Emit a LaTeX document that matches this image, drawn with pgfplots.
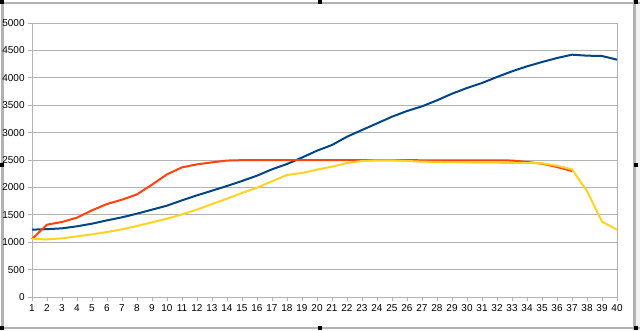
\documentclass[border=0pt]{standalone}
\usepackage{pgfplots}
\pgfplotsset{compat=1.18}
\usepackage{fontspec}
\setmainfont{Liberation Sans}
\definecolor{lblue}{HTML}{004586}
\definecolor{lred}{HTML}{FF420E}
\definecolor{lyellow}{HTML}{FFD320}
\definecolor{gridg}{HTML}{B3B3B3}
\begin{document}
\begin{tikzpicture}[x=0.75pt,y=0.75pt]
\useasboundingbox (0,0) rectangle (640,330);
\fill[white] (0,0) rectangle (640,330);
\fill[gray!10] (636,0) rectangle (640,330);
\draw[gray!60, line width=2.2] (2.5,0) -- (2.5,330);
\draw[gray!60, line width=1.5] (0,2) -- (640,2);
\draw[gray!60, line width=1.5] (0,327.5) -- (640,327.5);
\draw[gray!60, line width=2.2] (634.5,0) -- (634.5,330);
\begin{axis}[
  at={(24pt,24.75pt)}, anchor=south west,
  scale only axis, width=438.75pt, height=205.5pt,
  xmin=1, xmax=40, ymin=0, ymax=5000,
  xtick={1,...,40}, ytick={0,500,...,5000},
  ymajorgrids, major grid style={gridg, line width=0.6pt},
  axis line style={gridg, line width=0.6pt},
  xtick pos=left, ytick pos=left,
  tick style={gridg, line width=0.6pt},
  tick align=outside, major tick length=3pt,
  tick label style={font=\fontsize{7.5}{8}\selectfont, text=black},
  /pgf/number format/assume math mode=true,
  /pgf/number format/1000 sep={},
  xticklabel style={yshift=1pt},
  yticklabel style={xshift=1pt},
  clip=false,
]
\addplot[lblue, line width=1.5pt] coordinates {
(1,1229)(2,1238)(3,1253)(4,1290)(5,1338)(6,1399)(7,1454)(8,1521)(9,1594)(10,1667)
(11,1764)(12,1855)(13,1940)(14,2026)(15,2117)(16,2214)(17,2330)(18,2427)(19,2545)(20,2670)
(21,2774)(22,2925)(23,3047)(24,3168)(25,3290)(26,3394)(27,3479)(28,3589)(29,3710)(30,3814)
(31,3905)(32,4015)(33,4118)(34,4209)(35,4288)(36,4361)(37,4422)(38,4404)(39,4398)(40,4331)};
\addplot[lred, line width=1.5pt] coordinates {
(1,1058)(2,1320)(3,1369)(4,1448)(5,1582)(6,1697)(7,1776)(8,1873)(9,2050)(10,2238)
(11,2366)(12,2421)(13,2457)(14,2490)(15,2497)(16,2497)(17,2497)(18,2497)(19,2497)(20,2497)
(21,2497)(22,2497)(23,2497)(24,2497)(25,2497)(26,2497)(27,2495)(28,2495)(29,2495)(30,2495)
(31,2495)(32,2495)(33,2490)(34,2464)(35,2433)(36,2372)(37,2300)};
\addplot[lyellow, line width=1.5pt] coordinates {
(1,1058)(2,1052)(3,1070)(4,1107)(5,1143)(6,1186)(7,1235)(8,1296)(9,1363)(10,1429)
(11,1508)(12,1594)(13,1696)(14,1794)(15,1898)(16,1995)(17,2111)(18,2226)(19,2263)(20,2324)
(21,2378)(22,2445)(23,2482)(24,2494)(25,2494)(26,2482)(27,2470)(28,2465)(29,2460)(30,2455)
(31,2452)(32,2450)(33,2448)(34,2445)(35,2440)(36,2395)(37,2330)(38,1934)(39,1375)(40,1229)};
\end{axis}
\foreach \hx/\hy in {2/2, 320/2, 636/2, 2/328, 320/328, 636/328, 2/165, 636/165}
  \fill[black] (\hx-2,\hy-2) rectangle (\hx+2,\hy+2);
\end{tikzpicture}
\end{document}
